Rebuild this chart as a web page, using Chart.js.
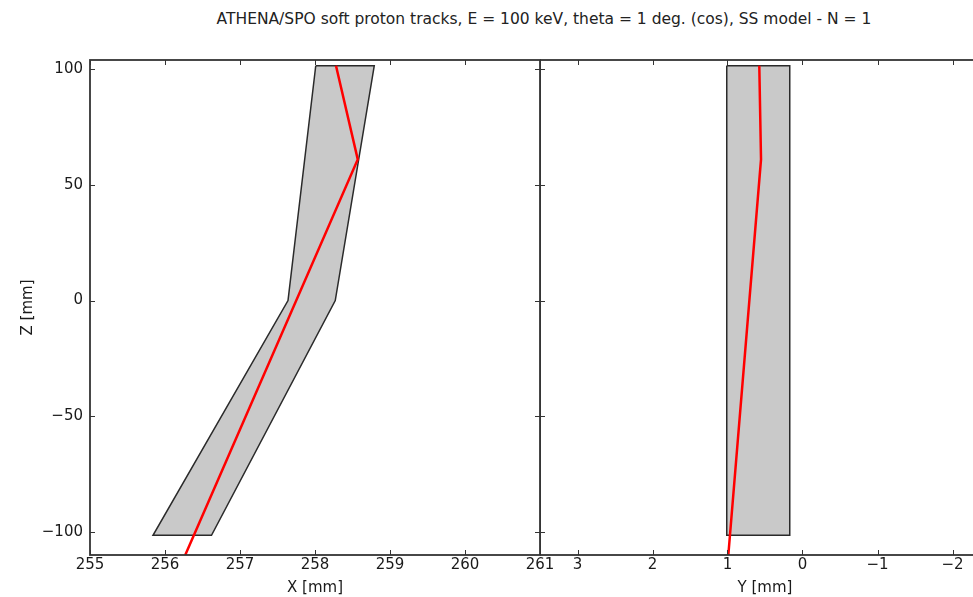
<!DOCTYPE html>
<html>
<head>
<meta charset="utf-8">
<script src="https://cdn.jsdelivr.net/npm/chart.js@4.4.0/dist/chart.umd.min.js"></script>
<style>
  html, body { margin: 0; padding: 0; background: #fff; overflow: hidden; width: 973px; height: 597px; }
  #title { position: absolute; top: 10px; left: 0; width: 1088px; text-align: center; font: 15.5px "DejaVu Sans"; color: #222; }
  #boxX { position: absolute; left: 0; top: 0; }
  #boxY { position: absolute; left: 540px; top: 0; }
</style>
</head>
<body>
<div id="title">ATHENA/SPO soft proton tracks, E = 100 keV, theta = 1 deg. (cos), SS model - N = 1</div>
<canvas id="boxX" width="560" height="597"></canvas>
<canvas id="boxY" width="470" height="597"></canvas>
<script>
// tick labels
var zTicks = [-100, -50, 0, 50, 100];
var xTicks = [255, 256, 257, 258, 259, 260, 261];
var yTicks = [3, 2, 1, 0, -1, -2];

// pore walls seen in X-Z
var wallX = [258.01, 258.79, 258.27, 256.62, 255.84, 257.64, 258.01];
var wallZ = [101.5, 101.5, 0, -101.5, -101.5, 0, 101.5];
// proton track in X-Z
var trackX = [258.28, 258.57, 256.27];
var trackZ = [101.5, 61, -110];

// pore walls seen in Y-Z
var wallY = [1.01, 0.17, 0.17, 1.01, 1.01];
var wallYZ = [101.5, 101.5, -101.5, -101.5, 101.5];
// proton track in Y-Z
var trackY = [0.576, 0.553, 0.989];
var trackYZ = [101.5, 61, -110];

function pts(a, b) {
  return a.map((v, i) => ({ x: v, y: b[i] }));
}

function minus(v) {
  return String(v).replace('-', '\u2212');
}

var font = { family: 'DejaVu Sans', size: 15 };
var ink = '#1a1a1a';

// frame + inward ticks on all four sides, like matplotlib classic
var frame = {
  id: 'frame',
  afterDatasetsDraw(chart, args, opts) {
    var a = chart.chartArea, ctx = chart.ctx;
    var sx = chart.scales.x, sy = chart.scales.y;
    ctx.save();
    ctx.strokeStyle = '#333';
    ctx.lineWidth = 1;
    ctx.beginPath();
    opts.xTicks.forEach(v => {
      var p = Math.round(sx.getPixelForValue(v)) + 0.5;
      ctx.moveTo(p, a.bottom); ctx.lineTo(p, a.bottom - 5);
      ctx.moveTo(p, a.top); ctx.lineTo(p, a.top + 5);
    });
    opts.yTicks.forEach(v => {
      var p = Math.round(sy.getPixelForValue(v)) + 0.5;
      ctx.moveTo(a.left, p); ctx.lineTo(a.left + 5, p);
      ctx.moveTo(a.right, p); ctx.lineTo(a.right - 5, p);
    });
    ctx.stroke();
    ctx.lineWidth = 1.8;
    ctx.strokeRect(a.left, a.top, a.right - a.left, a.bottom - a.top);
    ctx.restore();
  }
};

function wallSet(data) {
  return {
    data: data, showLine: true, fill: 'shape', order: 1,
    backgroundColor: '#c9c9c9', borderColor: '#2a2a2a', borderWidth: 1.5,
    pointRadius: 0, tension: 0
  };
}
function trackSet(data) {
  return {
    data: data, showLine: true, fill: false, order: 0,
    borderColor: '#ff0000', borderWidth: 2.5,
    pointRadius: 0, tension: 0
  };
}

// left panel: X vs Z
new Chart(document.getElementById('boxX'), {
  type: 'scatter',
  data: { datasets: [trackSet(pts(trackX, trackZ)), wallSet(pts(wallX, wallZ))] },
  options: {
    responsive: false, animation: false,
    layout: { padding: { top: 60, right: 20, left: 0, bottom: 0 } },
    plugins: { legend: { display: false }, tooltip: { enabled: false },
      frame: { xTicks: xTicks, yTicks: zTicks } },
    scales: {
      x: {
        type: 'linear', min: 255, max: 261,
        grid: { display: false, drawTicks: false }, border: { display: false },
        afterBuildTicks: s => { s.ticks = xTicks.map(v => ({ value: v })); },
        afterFit: s => { s.height = 42; },
        ticks: { font: font, color: ink, padding: 1, autoSkip: false, maxRotation: 0, callback: minus },
        title: { display: true, text: 'X [mm]', font: font, color: ink, padding: 0 }
      },
      y: {
        type: 'linear', min: -110, max: 104,
        grid: { display: false, drawTicks: false }, border: { display: false },
        afterBuildTicks: s => { s.ticks = zTicks.map(v => ({ value: v })); },
        afterFit: s => { s.width = 90; },
        ticks: { font: font, color: ink, padding: 7, autoSkip: false, callback: minus },
        title: { display: true, text: 'Z [mm]', font: font, color: ink, padding: { top: 19, bottom: 0 } }
      }
    }
  },
  plugins: [frame]
});

// right panel: Y vs Z (Y axis reversed)
new Chart(document.getElementById('boxY'), {
  type: 'scatter',
  data: { datasets: [trackSet(pts(trackY, trackYZ)), wallSet(pts(wallY, wallYZ))] },
  options: {
    responsive: false, animation: false,
    layout: { padding: { top: 60, right: 20, left: 0, bottom: 0 } },
    plugins: { legend: { display: false }, tooltip: { enabled: false },
      frame: { xTicks: yTicks, yTicks: zTicks } },
    scales: {
      x: {
        type: 'linear', min: -2.5, max: 3.5, reverse: true,
        grid: { display: false, drawTicks: false }, border: { display: false },
        afterBuildTicks: s => { s.ticks = yTicks.map(v => ({ value: v })); },
        afterFit: s => { s.height = 42; },
        ticks: { font: font, color: ink, padding: 1, autoSkip: false, maxRotation: 0, callback: minus },
        title: { display: true, text: 'Y [mm]', font: font, color: ink, padding: 0 }
      },
      y: {
        type: 'linear', min: -110, max: 104, display: false
      }
    }
  },
  plugins: [frame]
});
</script>
</body>
</html>
